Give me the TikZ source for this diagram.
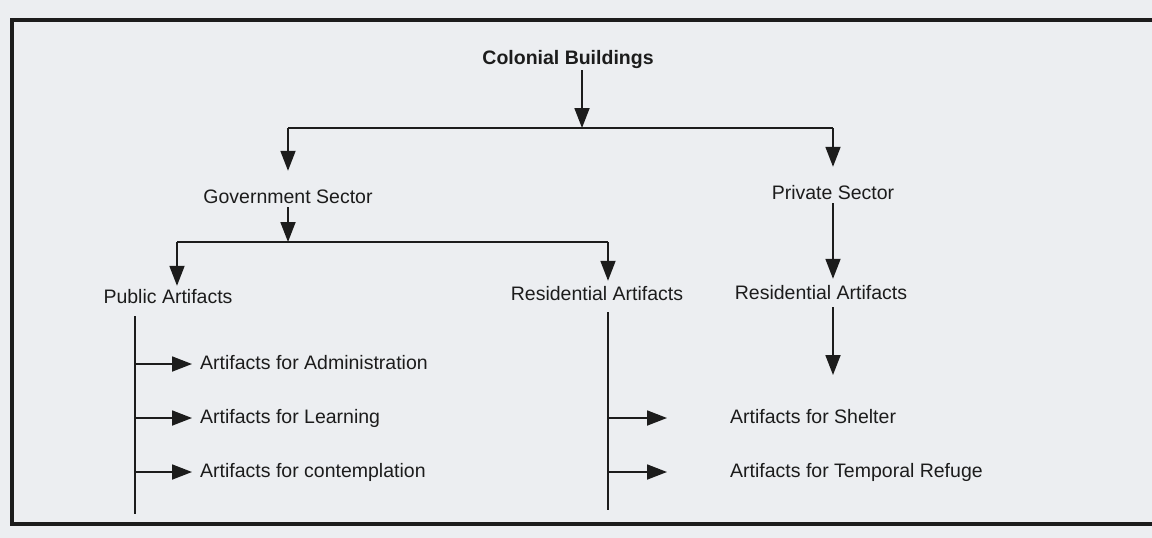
\documentclass[tikz,border=0pt]{standalone}
\usepackage{fontspec}
\setmainfont{Liberation Sans}
\usetikzlibrary{arrows.meta}
\definecolor{paper}{HTML}{ECEEF1}
\definecolor{ink}{HTML}{1C1C1C}
\begin{document}
\begin{tikzpicture}[x=1pt,y=-1pt,
  lbl/.style={font=\fontsize{19.5}{22}\selectfont, text=ink, inner sep=0pt,
              text height=14pt, text depth=4pt, anchor=base},
  lblb/.style={lbl, font=\fontsize{19.5}{22}\selectfont\bfseries},
  conn/.style={draw=ink, line width=1.8pt},
  arr/.style={conn, -{Triangle[length=20pt,width=15pt]}},
  framel/.style={draw=ink, line width=3.5pt},
]
\fill[paper] (0,0) rectangle (1152,538);
\useasboundingbox (0,0) rectangle (1152,538);
\draw[framel] (1152,20) -- (12,20) -- (12,524) -- (1152,524);

% labels
\node[lblb] (col) at (568,64) {Colonial Buildings};
\node[lbl] (gov) at (288,203) {Government Sector};
\node[lbl] (priv) at (833,199) {Private Sector};
\node[lbl] (pub) at (168,303) {Public Artifacts};
\node[lbl] (resl) at (597,300) {Residential Artifacts};
\node[lbl] (resr) at (821,299) {Residential Artifacts};
\node[lbl, anchor=base west] (adm) at (200,369) {Artifacts for Administration};
\node[lbl, anchor=base west] (lea) at (200,423) {Artifacts for Learning};
\node[lbl, anchor=base west] (con) at (200,477) {Artifacts for contemplation};
\node[lbl, anchor=base west] (she) at (730,423) {Artifacts for Shelter};
\node[lbl, anchor=base west] (ref) at (730,477) {Artifacts for Temporal Refuge};

% junctions
\coordinate (j0) at (582,128);
\coordinate (jl) at (288,128);
\coordinate (jr) at (833,128);
\coordinate (j1) at (288,242);
\coordinate (j1l) at (177,242);
\coordinate (j1r) at (608,242);
\coordinate (pv1) at (135,316);
\coordinate (pv2) at (135,514);
\coordinate (rv1) at (608,312);
\coordinate (rv2) at (608,510);
\coordinate (rend) at (833,375);

% level 1
\draw[arr, shorten <=2pt] (col.south -| j0) -- (j0);
\draw[conn] (jl) -- (jr);
\draw[arr, shorten >=18pt] (jl) -- (jl |- gov.north);
\draw[arr, shorten >=18pt] (jr) -- (jr |- priv.north);

% government branch
\draw[arr] (gov.south) -- (j1);
\draw[conn] (j1l) -- (j1r);
\draw[arr, shorten >=3pt] (j1l) -- (j1l |- pub.north);
\draw[arr, shorten >=5pt] (j1r) -- (j1r |- resl.north);

% private branch
\draw[arr, shorten >=6pt] (priv.south -| jr) -- (jr |- resr.north);
\draw[arr, shorten <=4pt] (resr.south -| jr) -- (rend);

% public artifacts
\draw[conn] (pv1) -- (pv2);
\draw[arr, shorten >=8pt] (pv1 |- adm.west) -- (adm.west);
\draw[arr, shorten >=8pt] (pv1 |- lea.west) -- (lea.west);
\draw[arr, shorten >=8pt] (pv1 |- con.west) -- (con.west);

% residential artifacts (government)
\draw[conn] (rv1) -- (rv2);
\draw[arr, shorten >=63pt] (rv1 |- she.west) -- (she.west);
\draw[arr, shorten >=63pt] (rv1 |- ref.west) -- (ref.west);
\end{tikzpicture}
\end{document}
